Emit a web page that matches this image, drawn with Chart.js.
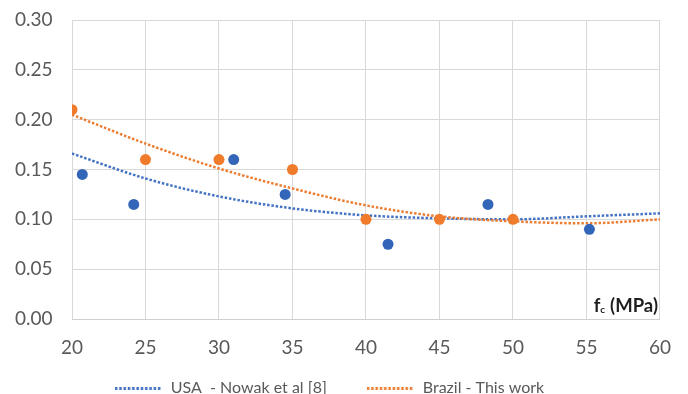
<!DOCTYPE html>
<html><head><meta charset="utf-8">
<script src="https://cdn.jsdelivr.net/npm/chart.js@4/dist/chart.umd.min.js"></script>
<style>html,body{margin:0;padding:0;background:#fff;overflow:hidden}#wrap{width:688px;height:432px;position:relative}</style>
</head><body><div id="wrap"><canvas id="c"></canvas></div>
<script>
// Observed data points
const usaFc = [20.7, 24.2, 31.0, 34.5, 41.5, 48.3, 55.2];
const usaVal = [0.145, 0.115, 0.160, 0.125, 0.075, 0.115, 0.090];
const brFc = [20, 25, 30, 35, 40, 45, 50];
const brVal = [0.210, 0.160, 0.160, 0.150, 0.100, 0.100, 0.100];
// Trend lines
const trendFc = [20, 25, 30, 35, 40, 45, 50, 55, 60];
const usaTrend = [0.166, 0.141, 0.123, 0.111, 0.104, 0.101, 0.100, 0.103, 0.106];
const brTrend = [0.205, 0.176, 0.151, 0.131, 0.114, 0.103, 0.098, 0.096, 0.100];
const xTicks = [20, 25, 30, 35, 40, 45, 50, 55, 60];
const yTicks = [0, 0.05, 0.10, 0.15, 0.20, 0.25, 0.30];
const seriesNames = ['USA  - Nowak et al [8]', 'Brazil - This work'];

const BLUE = '#4472C4', BLUE_PT = '#3366B8', ORANGE = '#ED7D31', ORANGE_PT = '#F07B2A';
const FONT = 'Lato, "Liberation Sans", sans-serif';

function pts(xs, ys){ return xs.map((x,i)=>({x, y: ys[i]})); }
function dotted(color){
  const c = document.createElement('canvas'); c.width = 48; c.height = 3;
  const g = c.getContext('2d'); g.fillStyle = color;
  for (let x = 0; x + 2 <= 48; x += 4.3) g.fillRect(x, 0, 2.5, 3);
  return c;
}

const fcLabel = {
  id: 'fcLabel',
  afterLayout(chart){
    const lg = chart.legend;
    lg.top -= 26; lg.bottom -= 26; lg.left -= 9; lg.right -= 9;
  },
  afterDraw(chart){
    const {ctx, chartArea} = chart;
    ctx.save();
    ctx.fillStyle = '#1f1f1f';
    ctx.textBaseline = 'alphabetic';
    const big = 'bold 18.5px ' + FONT, small = 'bold 10px ' + FONT;
    ctx.font = big; const wf = ctx.measureText('f').width, wm = ctx.measureText('(MPa)').width;
    ctx.font = small; const wc = ctx.measureText('c').width;
    const total = wf + wc + 5 + wm;
    const y = chartArea.bottom - 7;
    let x = chartArea.right - 2 - total;
    ctx.font = big; ctx.fillText('f', x, y); x += wf;
    ctx.font = small; ctx.fillText('c', x, y + 1); x += wc + 5;
    ctx.font = big; ctx.fillText('(MPa)', x, y);
    ctx.restore();
  }
};

new Chart(document.getElementById('c'), {
  type: 'scatter',
  data: {
    datasets: [
      {label: seriesNames[0], data: pts(trendFc, usaTrend), showLine: true, borderColor: BLUE, borderWidth: 2.5, borderDash: [2.5, 1.8], pointRadius: 0, cubicInterpolationMode: 'monotone', fill: false, order: 3},
      {label: seriesNames[1], data: pts(trendFc, brTrend), showLine: true, borderColor: ORANGE, borderWidth: 2.5, borderDash: [2.5, 1.8], pointRadius: 0, cubicInterpolationMode: 'monotone', fill: false, order: 2},
      {label: 'USA points', data: pts(usaFc, usaVal), backgroundColor: BLUE_PT, borderColor: BLUE_PT, pointRadius: 5.5, pointBorderWidth: 0, order: 1},
      {label: 'Brazil points', data: pts(brFc, brVal), backgroundColor: ORANGE_PT, borderColor: ORANGE_PT, pointRadius: 5.5, pointBorderWidth: 0, order: 0}
    ]
  },
  options: {
    responsive: true, maintainAspectRatio: false, animation: false,
    layout: {padding: {left: 15, right: 26, top: 0, bottom: 0}},
    plugins: {
      tooltip: {enabled: false},
      legend: {
        position: 'bottom',
        labels: {
          usePointStyle: true, pointStyleWidth: 48, boxHeight: 3,
          color: '#595959', font: {family: FONT, size: 16}, padding: 40,
          generateLabels(chart){
            return [0,1].map(i => ({
              text: seriesNames[i], fillStyle: 'transparent', strokeStyle: 'transparent', lineWidth: 0,
              pointStyle: dotted(i === 0 ? BLUE : ORANGE), fontColor: '#595959', datasetIndex: i, hidden: false
            }));
          }
        }
      }
    },
    scales: {
      x: {
        type: 'linear', min: 20, max: 60,
        afterBuildTicks(s){ s.ticks = xTicks.map(v => ({value: v})); },
        afterFit(s){ s.height = 47; },
        grid: {color: '#d9d9d9', drawTicks: false, lineWidth: 1},
        border: {color: '#d0d0d0'},
        ticks: {color: '#595959', font: {family: FONT, size: 19}, padding: 17}
      },
      y: {
        min: 0, max: 0.30,
        afterBuildTicks(s){ s.ticks = yTicks.map(v => ({value: v})); },
        afterFit(s){ s.width = 57; },
        grid: {color: '#d9d9d9', drawTicks: false, lineWidth: 1},
        border: {display: false},
        ticks: {color: '#595959', font: {family: FONT, size: 19}, padding: 8.6, crossAlign: 'far', callback: v => v.toFixed(2)}
      }
    }
  },
  plugins: [fcLabel]
});
</script></body></html>
